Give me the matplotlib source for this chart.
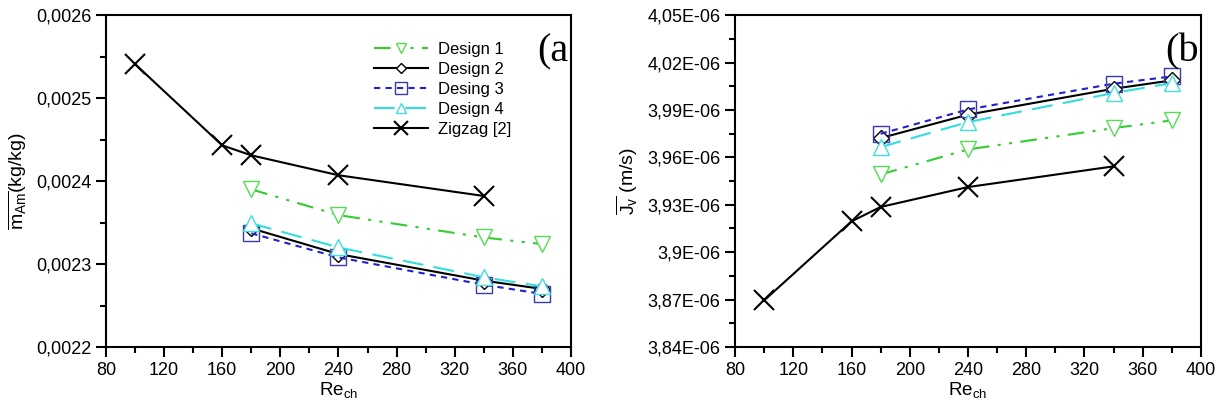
import matplotlib
matplotlib.use('Agg')
import matplotlib.pyplot as plt
from matplotlib.ticker import MultipleLocator, FuncFormatter

plt.rcParams['font.family'] = ['Liberation Sans', 'DejaVu Sans']
plt.rcParams['mathtext.fontset'] = 'custom'
plt.rcParams['mathtext.rm'] = 'Liberation Sans'
plt.rcParams['mathtext.it'] = 'Liberation Sans'

# Reynolds numbers
re_design = [180, 240, 340, 380]
re_zigzag = [100, 160, 180, 240, 340]

# (a) mean ammonia mass fraction, kg/kg
m_d1 = [0.002390, 0.002359, 0.002332, 0.002324]
m_d2 = [0.002343, 0.002312, 0.002280, 0.002270]
m_d3 = [0.002337, 0.002308, 0.002275, 0.002264]
m_d4 = [0.002349, 0.002320, 0.002284, 0.002273]
m_zz = [0.002541, 0.002443, 0.002431, 0.002407, 0.002382]

# (b) mean vapour flux, m/s
j_d1 = [3.9492e-06, 3.9650e-06, 3.9785e-06, 3.9834e-06]
j_d2 = [3.9722e-06, 3.9870e-06, 4.0034e-06, 4.0087e-06]
j_d3 = [3.9749e-06, 3.9903e-06, 4.0066e-06, 4.0112e-06]
j_d4 = [3.9665e-06, 3.9823e-06, 4.0007e-06, 4.0070e-06]
j_zz = [3.8695e-06, 3.9195e-06, 3.9286e-06, 3.9412e-06, 3.9543e-06]

labels = ['Design 1', 'Design 2', 'Desing 3', 'Design 4', 'Zigzag [2]']

styles = [
    dict(color='#33cc33', ls=(0, (8, 4, 1.5, 4, 1.5, 4)), marker='v', ms=11, mfc='white', mec='#55dd55'),
    dict(color='black', ls='-', marker='D', ms=8, mfc='white', mec='black'),
    dict(color='#2020cc', ls=(0, (3, 2.5)), marker='s', ms=12, mfc='none', mec='#3a3aaa'),
    dict(color='#33dddd', ls=(0, (10, 5)), marker='^', ms=11, mfc='white', mec='#44dddd'),
    dict(color='black', ls='-', marker='x', ms=14, mew=1.5),
]

fig = plt.figure(figsize=(12.22, 4.08), dpi=100)
ax1 = fig.add_axes([0.0867, 0.1495, 0.3806, 0.8135])
ax2 = fig.add_axes([0.6015, 0.1495, 0.3813, 0.8135])


def style_axes(ax):
    for s in ax.spines.values():
        s.set_linewidth(1.5)
    ax.set_xlim(80, 400)
    ax.xaxis.set_major_locator(MultipleLocator(40))
    ax.xaxis.set_minor_locator(MultipleLocator(20))
    ax.tick_params(which='major', direction='out', length=7, width=1.5, labelsize=13)
    ax.tick_params(which='minor', direction='out', length=4, width=1.5)
    ax.set_xlabel(r'Re$_{\mathregular{ch}}$', fontsize=13.5, labelpad=1)


series_a = [m_d1, m_d2, m_d3, m_d4]
for ys, st, lab in zip(series_a, styles[:4], labels[:4]):
    ax1.plot(re_design, ys, lw=1.5, label=lab, **st)
ax1.plot(re_zigzag, m_zz, lw=1.5, label=labels[4], **styles[4])
style_axes(ax1)
ax1.set_ylim(0.0022, 0.0026)
ax1.yaxis.set_major_locator(MultipleLocator(0.0001))
ax1.yaxis.set_minor_locator(MultipleLocator(0.00005))
ax1.yaxis.set_major_formatter(FuncFormatter(lambda v, p: ('%.4f' % v).replace('.', ',')))
ax1.set_ylabel(r'$\overline{\mathregular{m_{Am}}}$(kg/kg)', fontsize=14, labelpad=5)
ax1.text(0.995, 0.89, '(a', transform=ax1.transAxes, ha='right', va='center',
         fontsize=29, family='Liberation Serif')
ax1.legend(loc='upper left', bbox_to_anchor=(0.545, 0.965), frameon=False, fontsize=12,
           markerscale=0.7, handlelength=3.2, labelspacing=0.3, handletextpad=0.6)

series_b = [j_d1, j_d2, j_d3, j_d4]
for ys, st, lab in zip(series_b, styles[:4], labels[:4]):
    ax2.plot(re_design, ys, lw=1.5, label=lab, **st)
ax2.plot(re_zigzag, j_zz, lw=1.5, label=labels[4], **styles[4])
style_axes(ax2)
ax2.set_ylim(3.84e-06, 4.05e-06)
ax2.yaxis.set_major_locator(MultipleLocator(0.03e-06))
ax2.yaxis.set_minor_locator(MultipleLocator(0.015e-06))
ax2.yaxis.set_major_formatter(FuncFormatter(lambda v, p: ('%g' % float('%.4g' % v)).upper().replace('.', ',')))
ax2.set_ylabel(r'$\overline{\mathregular{J_v}}$ (m/s)', fontsize=14, labelpad=5)
ax2.text(0.995, 0.89, '(b', transform=ax2.transAxes, ha='right', va='center',
         fontsize=29, family='Liberation Serif')

fig.savefig('out.png', dpi=100)
